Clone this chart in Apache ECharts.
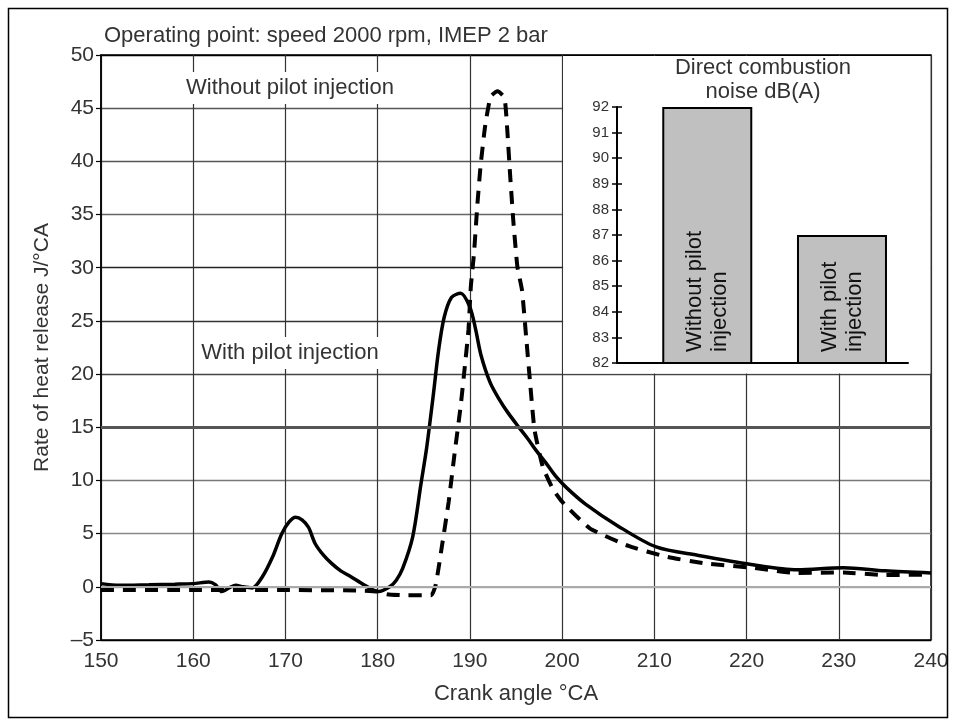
<!DOCTYPE html>
<html><head><meta charset="utf-8">
<script src="https://cdn.jsdelivr.net/npm/echarts@6/dist/echarts.min.js"></script>
<style>html,body{margin:0;padding:0;background:#fff}#c{width:956px;height:728px}</style>
</head><body><div id="c"></div>
<script>
// With pilot injection (solid line)
const withPilotX = [150, 152, 155.2, 158, 160, 161.7, 162.4, 163.1, 164, 164.6, 165.4, 166.4, 167.5, 168.6, 169.6, 170.4, 171.1, 171.8, 172.5, 173.2, 174.1, 175.0, 176.0, 177.1, 178.5, 180.1, 181.3, 182.0, 182.7, 183.8, 184.7, 185.3, 186.0, 186.6, 187.2, 188.0, 189.0, 190.0, 190.6, 191.2, 192.2, 193.2, 194.1, 195.4, 196.3, 197.2, 198.2, 199.3, 200.5, 202.5, 206.0, 210.2, 214.8, 220.5, 225.5, 230.5, 235, 240];
const withPilotY = [0.3, 0.15, 0.2, 0.25, 0.3, 0.45, 0.2, -0.45, -0.05, 0.15, 0.0, -0.1, 0.95, 2.8, 5.0, 6.1, 6.55, 6.3, 5.6, 4.1, 3.0, 2.2, 1.5, 0.95, 0.2, -0.45, 0.0, 0.6, 1.7, 4.7, 9.7, 13.0, 17.8, 22.2, 25.3, 27.2, 27.6, 26.3, 24.3, 21.8, 19.2, 17.6, 16.4, 14.9, 13.9, 12.8, 11.7, 10.4, 9.3, 7.8, 5.75, 3.75, 2.95, 2.1, 1.6, 1.8, 1.5, 1.3];
// Without pilot injection (dashed line)
const withoutPilotX = [150, 160, 170, 178, 180, 181, 183, 185.8, 186.3, 187.0, 187.7, 188.3, 189.0, 189.45, 189.85, 190.1, 190.45, 190.8, 191.15, 191.65, 192.25, 193.0, 193.75, 194.05, 194.35, 194.7, 195.15, 195.65, 196.1, 196.5, 197.0, 197.9, 199.0, 200.0, 203.0, 207.2, 211.2, 215.5, 220.5, 225.5, 230.5, 235, 240];
const withoutPilotY = [-0.3, -0.3, -0.3, -0.35, -0.45, -0.7, -0.8, -0.8, 0.2, 4, 8, 12.25, 17, 20.7, 24.2, 28.2, 31.4, 35.8, 39.5, 43.3, 46.1, 46.6, 46.0, 43, 38.9, 34.5, 30.1, 27.9, 23.5, 19.5, 14.8, 11.3, 9.2, 8.0, 5.5, 3.85, 2.85, 2.2, 1.8, 1.3, 1.35, 1.1, 1.15];
// Inset: direct combustion noise dB(A)
const noiseCategories = ['Without pilot\ninjection', 'With pilot\ninjection'];
const noiseValues = [92, 87];
const noisePositions = [1, 2];

const FONT = '"Liberation Sans", Arial, sans-serif';
const TXT = '#333';
const pair = (xs, ys) => xs.map((x, i) => [x, ys[i]]);

const chart = echarts.init(document.getElementById('c'), null, {renderer: 'canvas'});

const option = {
  animation: false,
  backgroundColor: '#fff',
  textStyle: {fontFamily: FONT},
  title: [
    {text: 'Operating point: speed 2000 rpm, IMEP 2 bar', left: 104, top: 25, padding: 0,
     textStyle: {fontSize: 22, fontWeight: 'normal', color: TXT, fontFamily: FONT}},
    {text: 'Without pilot injection', left: 287, top: 72, textAlign: 'center', backgroundColor: '#fff', padding: [5, 3],
     textStyle: {fontSize: 22, fontWeight: 'normal', color: TXT, fontFamily: FONT}},
    {text: 'With pilot injection', left: 287, top: 337, textAlign: 'center', backgroundColor: '#fff', padding: [5, 3],
     textStyle: {fontSize: 22, fontWeight: 'normal', color: TXT, fontFamily: FONT}},
    {text: 'Direct combustion\nnoise dB(A)', left: 763, top: 56, textAlign: 'center', padding: 0, z: 8,
     textStyle: {fontSize: 22, fontWeight: 'normal', color: TXT, fontFamily: FONT, lineHeight: 24}}
  ],
  grid: [
    {left: 101, right: 25, top: 55, bottom: 88, show: true, borderColor: '#000', borderWidth: 1.5, backgroundColor: 'transparent'},
    {left: 617, top: 107, width: 291, height: 256}
  ],
  xAxis: [
    {type: 'value', gridIndex: 0, min: 150, max: 240, interval: 10,
     name: 'Crank angle °CA', nameLocation: 'middle', nameGap: 43,
     nameTextStyle: {fontSize: 22, color: TXT, fontFamily: FONT},
     axisLine: {show: true, lineStyle: {color: '#000', width: 2}},
     axisTick: {show: false},
     axisLabel: {fontSize: 21, color: TXT, margin: 11, fontFamily: FONT},
     splitLine: {show: true, lineStyle: {color: '#333', width: 1.2}}},
    {type: 'value', gridIndex: 1, min: 0.33, max: 2.49, z: 3,
     axisLine: {show: true, onZero: false, lineStyle: {color: '#000', width: 2}},
     axisTick: {show: false}, axisLabel: {show: false}, splitLine: {show: false}}
  ],
  yAxis: [
    {type: 'value', gridIndex: 0, min: -5, max: 50, interval: 5,
     name: 'Rate of heat release J/°CA', nameLocation: 'middle', nameGap: 48,
     nameTextStyle: {fontSize: 21, color: TXT, fontFamily: FONT},
     axisLine: {show: true, lineStyle: {color: '#000', width: 1.5}},
     axisTick: {show: true, length: 5, lineStyle: {color: '#000', width: 1.2}},
     axisLabel: {fontSize: 21, color: TXT, margin: 7, fontFamily: FONT,
                 formatter: v => v < 0 ? '\u2013' + (-v) : String(v)},
     splitLine: {show: true, lineStyle: {width: 1.3,
       color: ['#000', '#aaa', '#888', '#777', '#555', '#444', '#333', '#222', '#666', '#555', '#555', '#000']}}},
    {type: 'value', gridIndex: 1, min: 82, max: 92, interval: 1, position: 'left', offset: 0, z: 3,
     axisLine: {show: true, lineStyle: {color: '#000', width: 2}},
     axisTick: {show: true, length: 5, lineStyle: {color: '#000', width: 1.5}},
     axisLabel: {fontSize: 15, color: TXT, margin: 8, fontFamily: FONT},
     splitLine: {show: false}},
    {type: 'value', gridIndex: 1, min: 82, max: 92, interval: 1, position: 'left', offset: 0, z: 3,
     axisLine: {show: false},
     axisTick: {show: true, inside: true, length: 5, lineStyle: {color: '#000', width: 1.5}},
     axisLabel: {show: false}, splitLine: {show: false}}
  ],
  series: [
    {type: 'line', name: 'guides', xAxisIndex: 0, yAxisIndex: 0, data: [], z: 1,
     markLine: {silent: true, symbol: 'none', animation: false, label: {show: false},
       data: [
         {yAxis: 15, lineStyle: {color: '#555', width: 3, type: 'solid'}},
         {yAxis: 0, lineStyle: {color: '#aaa', width: 2, type: 'solid'}}
       ]}},
    {type: 'line', name: 'Without pilot injection', xAxisIndex: 0, yAxisIndex: 0, z: 2,
     data: pair(withoutPilotX, withoutPilotY), showSymbol: false, smooth: 0.15,
     lineStyle: {color: '#000', width: 4, type: [13, 9], cap: 'butt'}},
    {type: 'line', name: 'With pilot injection', xAxisIndex: 0, yAxisIndex: 0, z: 2,
     data: pair(withPilotX, withPilotY), showSymbol: false, smooth: 0.3,
     lineStyle: {color: '#000', width: 3.5, type: 'solid'}},
    {type: 'bar', name: 'noise', xAxisIndex: 1, yAxisIndex: 1, z: 3, barWidth: 90,
     data: noisePositions.map((p, i) => [p, noiseValues[i]]),
     itemStyle: {color: '#c0c0c0', borderColor: '#000', borderWidth: 2},
     label: {show: true, position: 'insideBottom', rotate: 90, align: 'left', verticalAlign: 'middle',
             distance: 12, fontSize: 22, lineHeight: 25, color: '#111', fontFamily: FONT,
             formatter: p => noiseCategories[p.dataIndex]}}
  ]
};
chart.setOption(option);

// white panel behind the inset, spanning the data area 200..240 x 20..50
const pTL = chart.convertToPixel({gridIndex: 0}, [200, 50]);
const pBR = chart.convertToPixel({gridIndex: 0}, [240, 20]);
chart.setOption({
  graphic: [
    {type: 'rect', z: 1, silent: true,
     shape: {x: pTL[0] + 1, y: pTL[1] + 1, width: pBR[0] - pTL[0] - 1.5, height: pBR[1] - pTL[1] - 1.5},
     style: {fill: '#fff', stroke: null}},
    {type: 'rect', z: 10, silent: true,
     shape: {x: 8.5, y: 8.5, width: 939, height: 709},
     style: {fill: 'none', stroke: '#000', lineWidth: 1.5}}
  ]
});
</script>
</body></html>
